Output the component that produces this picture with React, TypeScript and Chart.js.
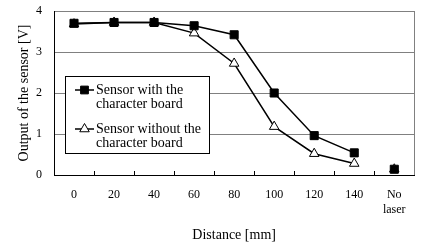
import React, { useEffect, useRef } from "react";
import { Chart, registerables } from "chart.js";

Chart.register(...registerables);

const categories: (string | string[])[] = ["0", "20", "40", "60", "80", "100", "120", "140", ["No", "laser"]];
const withBoard = [3.7, 3.72, 3.72, 3.64, 3.42, 2.0, 0.96, 0.54, 0.14];
const withoutBoard = [3.68, 3.72, 3.72, 3.46, 2.72, 1.18, 0.52, 0.28, 0.14];
const withLabel = ["Sensor with the", "character board"];
const withoutLabel = ["Sensor without the", "character board"];
const yTitle = "Output of the sensor [V]";
const xTitle = "Distance [mm]";

const FONT = "'Liberation Serif', 'Times New Roman', serif";

function drawMarker(ctx: CanvasRenderingContext2D, kind: string, x: number, y: number, r: number) {
  ctx.beginPath();
  if (kind === "rect") {
    const s = Math.SQRT1_2 * r;
    ctx.rect(x - s, y - s, 2 * s, 2 * s);
    ctx.fillStyle = "#000";
  } else {
    const h = r;
    ctx.moveTo(x, y - h);
    ctx.lineTo(x + (Math.sqrt(3) / 2) * h, y + h / 2);
    ctx.lineTo(x - (Math.sqrt(3) / 2) * h, y + h / 2);
    ctx.closePath();
    ctx.fillStyle = "#fff";
  }
  ctx.fill();
  ctx.lineWidth = 1;
  ctx.strokeStyle = "#000";
  ctx.stroke();
}

const decorPlugin = {
  id: "decor",
  beforeDatasetsDraw(chart: any) {
    const { ctx, chartArea } = chart;
    ctx.save();
    ctx.strokeStyle = "#808080";
    ctx.lineWidth = 1;
    ctx.beginPath();
    ctx.moveTo(Math.round(chartArea.right) + 0.5, chartArea.top);
    ctx.lineTo(Math.round(chartArea.right) + 0.5, chartArea.bottom);
    ctx.stroke();
    ctx.strokeStyle = "#000";
    const n = categories.length;
    const w = (chartArea.right - chartArea.left) / n;
    for (let k = 1; k < n; k++) {
      const x = Math.round(chartArea.left + k * w) + 0.5;
      ctx.beginPath();
      ctx.moveTo(x, chartArea.bottom);
      ctx.lineTo(x, chartArea.bottom - 4);
      ctx.stroke();
    }
    ctx.restore();
  },
  afterDatasetsDraw(chart: any) {
    const { ctx, chartArea } = chart;
    ctx.save();
    const bx = chartArea.left + 11;
    const by = 76;
    const bw = 144;
    const bh = 77;
    ctx.fillStyle = "#fff";
    ctx.fillRect(bx, by, bw, bh);
    ctx.strokeStyle = "#000";
    ctx.lineWidth = 1;
    ctx.strokeRect(bx + 0.5, by + 0.5, bw, bh);
    const items = [
      { label: withLabel, kind: "rect", y: by + 14 },
      { label: withoutLabel, kind: "triangle", y: by + 53 },
    ];
    ctx.font = `14px ${FONT}`;
    ctx.textBaseline = "middle";
    ctx.textAlign = "left";
    for (const it of items) {
      ctx.strokeStyle = "#000";
      ctx.lineWidth = 1.5;
      ctx.beginPath();
      ctx.moveTo(bx + 10, it.y);
      ctx.lineTo(bx + 29, it.y);
      ctx.stroke();
      drawMarker(ctx, it.kind, bx + 19.5, it.y, 5.5);
      ctx.fillStyle = "#000";
      it.label.forEach((t, i) => ctx.fillText(t, bx + 31, it.y + i * 14.5));
    }
    ctx.restore();
  },
};

export default function App() {
  const ref = useRef<HTMLCanvasElement>(null);
  useEffect(() => {
    document.body.style.margin = "0";
    const segColor = (c: any) => (c.p1DataIndex === categories.length - 1 ? "transparent" : "#000");
    const chart = new Chart(ref.current!, {
      type: "line",
      data: {
        labels: categories as any,
        datasets: [
          {
            label: withLabel.join(" "),
            data: withBoard,
            borderColor: "#000",
            borderWidth: 1.5,
            pointStyle: "rect",
            pointRadius: 5.7,
            pointBackgroundColor: "#000",
            pointBorderColor: "#000",
            pointBorderWidth: 1,
            tension: 0,
            segment: { borderColor: segColor },
          },
          {
            label: withoutLabel.join(" "),
            data: withoutBoard,
            borderColor: "#000",
            borderWidth: 1.5,
            pointStyle: "triangle",
            pointRadius: 5.5,
            pointBackgroundColor: "#fff",
            pointBorderColor: "#000",
            pointBorderWidth: 1,
            tension: 0,
            segment: { borderColor: segColor },
          },
        ],
      },
      options: {
        animation: false,
        responsive: false,
        layout: { padding: { top: 11, right: 5, bottom: 0, left: 0 } },
        plugins: { legend: { display: false }, tooltip: { enabled: false } },
        scales: {
          x: {
            type: "category",
            offset: true,
            grid: { display: true, drawOnChartArea: false, drawTicks: false, offset: true },
            border: { display: true, color: "#000", width: 1 },
            ticks: { color: "#000", font: { family: FONT, size: 12 }, padding: 13, maxRotation: 0, autoSkip: false },
            title: { display: true, text: xTitle, color: "#000", font: { family: FONT, size: 14 }, padding: { top: 0, bottom: 0 } },
            afterFit: (s: any) => {
              s.height = 69;
              s.paddingLeft = 0;
              s.paddingRight = 0;
            },
          },
          y: {
            min: 0,
            max: 4,
            ticks: { stepSize: 1, color: "#000", font: { family: FONT, size: 12 }, padding: 12 },
            grid: { color: "#808080", lineWidth: 1, drawTicks: false },
            border: { display: true, color: "#000", width: 1 },
            title: { display: true, text: yTitle, color: "#000", font: { family: FONT, size: 14 }, padding: { top: 16, bottom: 0 } },
            afterFit: (s: any) => {
              s.width = 54;
              s.paddingTop = 0;
              s.paddingBottom = 0;
            },
          },
        },
      },
      plugins: [decorPlugin],
    });
    return () => chart.destroy();
  }, []);
  return <canvas ref={ref} width={421} height={244} style={{ display: "block" }} />;
}
